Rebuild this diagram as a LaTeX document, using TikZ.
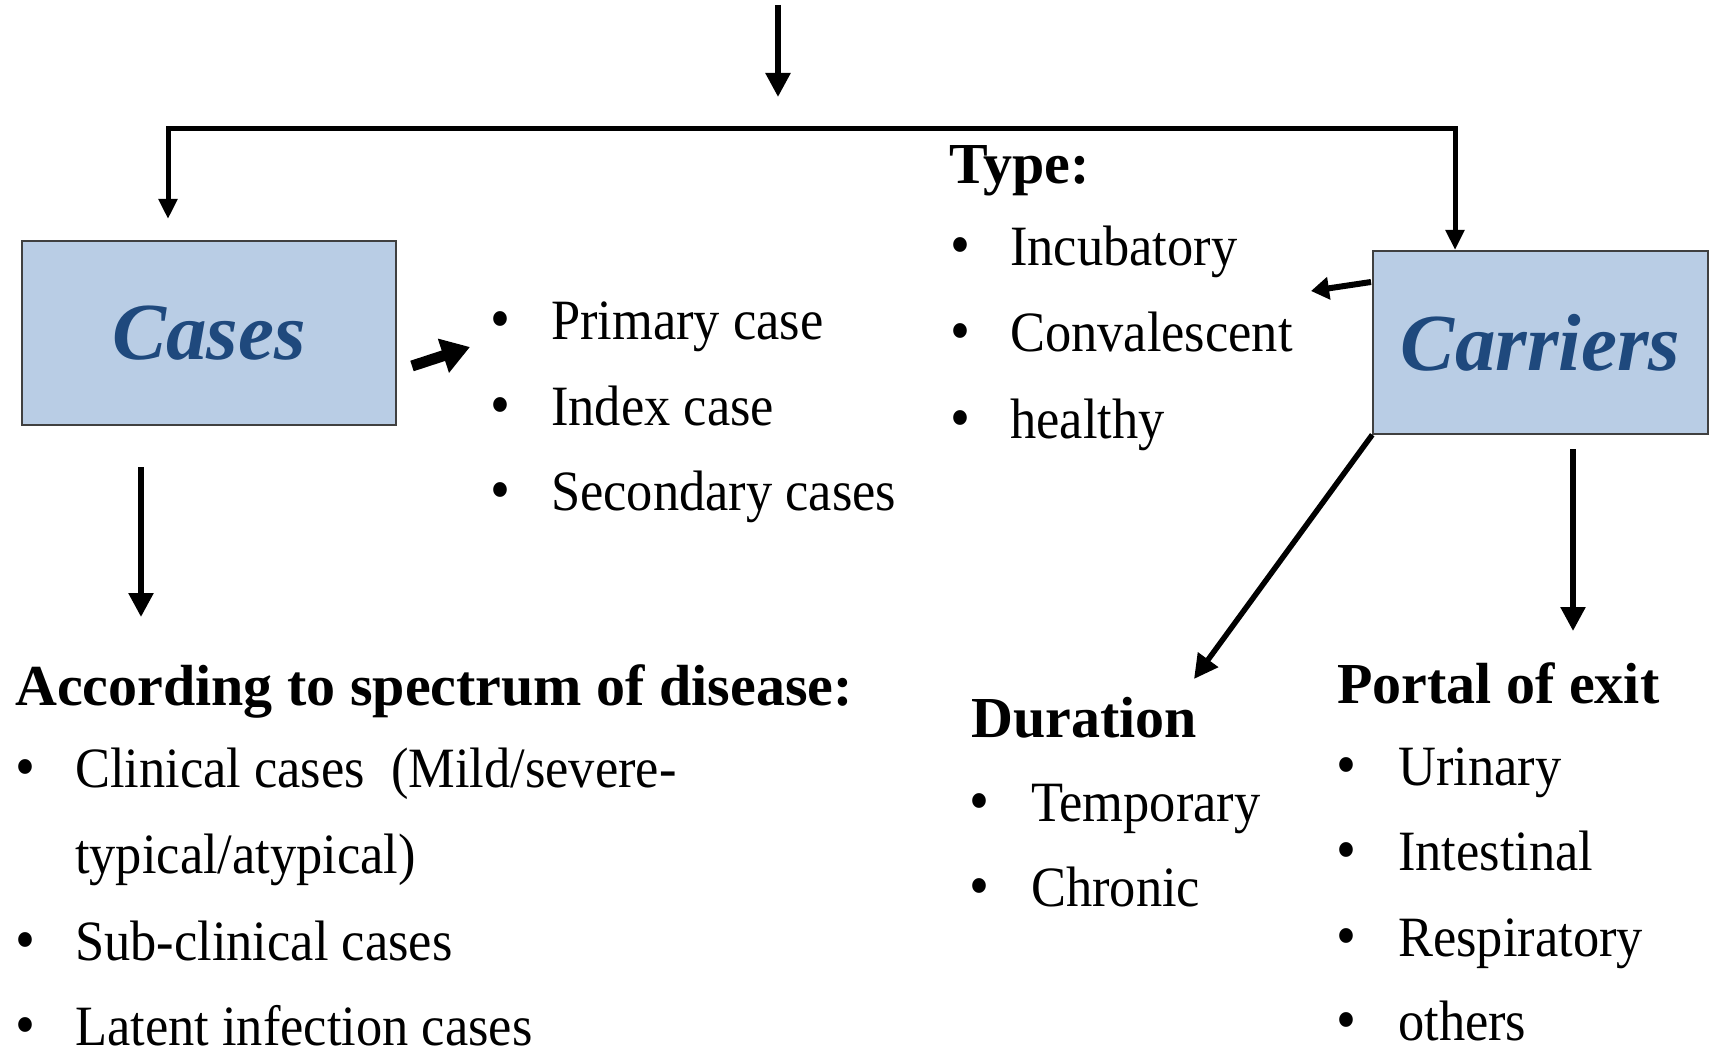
\documentclass[tikz,border=0pt]{standalone}
\usepackage{fontspec}
\setmainfont{Liberation Serif}[FakeStretch=0.92]
\newfontfamily\headfont{Liberation Serif}
\usetikzlibrary{arrows.meta}
\definecolor{boxfill}{HTML}{B9CDE5}
\definecolor{boxtext}{HTML}{1F497D}
\definecolor{boxline}{HTML}{404040}
\tikzset{
  box/.style={draw=boxline, line width=1.5pt, fill=boxfill, inner sep=0pt,
    font=\headfont\fontsize{81}{90}\selectfont\bfseries\itshape, text=boxtext},
  body/.style={font=\fontsize{57}{62}\selectfont, anchor=base west, inner sep=0pt},
  head/.style={font=\headfont\fontsize{58}{62}\selectfont\bfseries, anchor=base west, inner sep=0pt},
  bul/.style={font=\fontsize{62}{62}\selectfont, anchor=base west, inner sep=0pt},
  thinarrow/.style={line width=5pt, -{Triangle[width=18pt,length=20pt]}},
  midarrow/.style={line width=5.5pt, -{Triangle[width=24pt,length=24pt]}},
  fatarrow/.style={line width=11pt, -{Triangle[width=34pt,length=28pt]}},
  smallfat/.style={line width=6pt, -{Triangle[width=22pt,length=18pt]}},
}
\begin{document}
\begin{tikzpicture}[x=1pt,y=-1pt]
\useasboundingbox (0,0) rectangle (1710,1048);

% boxes
\node[box, minimum width=374pt, minimum height=184pt] (cases) at (209,333) {Cases};
\node[box, minimum width=335pt, minimum height=183pt] (carriers) at (1540.5,342.5) {Carriers};

% top connectors
\coordinate (topS) at (778,5);
\coordinate (topE) at (778,97);
\coordinate (barM) at (778,129);
\coordinate (barL) at (168,129);
\coordinate (barR) at (1455,129);
\coordinate (casesIn) at (168,219);
\coordinate (carrIn) at (1455,250);
\draw[midarrow] (topS) -- (topE);
\draw[thinarrow] (barM) -- (barL) -- (casesIn);
\draw[thinarrow] (barM) -- (barR) -- (carrIn);

% primary list
\node[bul] (b1) at (490,340) {•};
\node[body] (t1) at (551,340) {Primary case};
\node[bul] (b2) at (490,425) {•};
\node[body] (t2) at (551,425) {Index case};
\node[bul] (b3) at (490,510) {•};
\node[body] (t3) at (551,510) {Secondary cases};

\coordinate (casesOut) at (412,366);
\coordinate (listIn) at (470,347);
\draw[fatarrow] (casesOut) -- (listIn);

% type list
\node[head] (type) at (949,184) {Type:};
\node[bul] (b4) at (950,266) {•};
\node[body] (t4) at (1010,266) {Incubatory};
\node[bul] (b5) at (950,352) {•};
\node[body] (t5) at (1010,352) {Convalescent};
\node[bul] (b6) at (950,438) {•};
\node[body] (t6) at (1010,438) {healthy};

\coordinate (carrOut) at (1371,282);
\coordinate (typeIn) at (1311,291);
\draw[smallfat] (carrOut) -- (typeIn);

% left bottom
\coordinate (casesDownS) at (141,467);
\coordinate (casesDownE) at (141,617);
\draw[midarrow] (casesDownS) -- (casesDownE);
\node[head] (spec) at (15,705) {According to spectrum of disease:};
\node[bul] (b7) at (15,787) {•};
\node[body] (t7) at (75,787) {Clinical cases\ \ (Mild/severe-};
\node[body] (t7b) at (75,873) {typical/atypical)};
\node[bul] (b8) at (15,960) {•};
\node[body] (t8) at (75,960) {Sub-clinical cases};
\node[bul] (b9) at (15,1045) {•};
\node[body] (t9) at (75,1045) {Latent infection cases};

% duration
\coordinate (durIn) at (1194,679);
\draw[midarrow] (carriers.south west) -- (durIn);
\node[head] (dur) at (971,737) {Duration};
\node[bul] (b10) at (969,821) {•};
\node[body] (t10) at (1031,821) {Temporary};
\node[bul] (b11) at (969,906) {•};
\node[body] (t11) at (1031,906) {Chronic};

% portal
\coordinate (carrDownS) at (1573,449);
\coordinate (carrDownE) at (1573,631);
\draw[midarrow] (carrDownS) -- (carrDownE);
\node[head] (portal) at (1337,703) {Portal of exit};
\node[bul] (b12) at (1336,785) {•};
\node[body] (t12) at (1398,785) {Urinary};
\node[bul] (b13) at (1336,870) {•};
\node[body] (t13) at (1398,870) {Intestinal};
\node[bul] (b14) at (1336,956) {•};
\node[body] (t14) at (1398,956) {Respiratory};
\node[bul] (b15) at (1336,1040) {•};
\node[body] (t15) at (1398,1040) {others};
\end{tikzpicture}
\end{document}
